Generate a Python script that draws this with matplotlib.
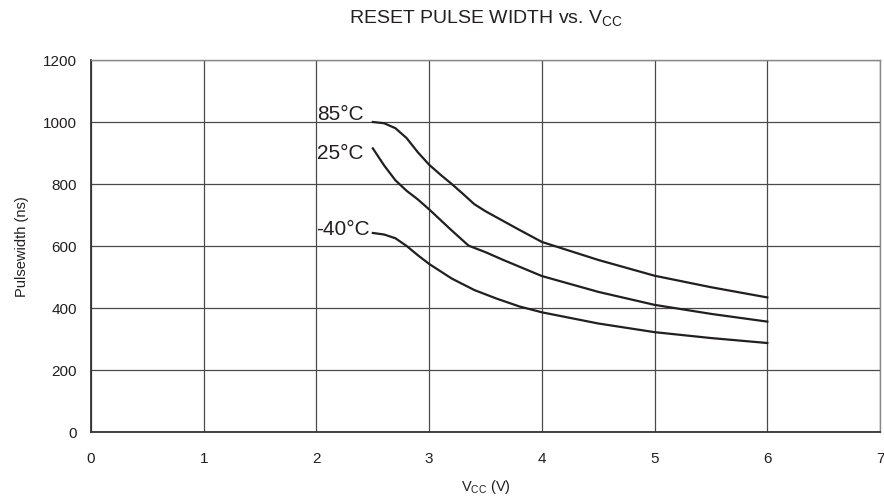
import matplotlib
matplotlib.use("Agg")
import matplotlib.pyplot as plt

plt.rcParams['font.family'] = ['Liberation Sans', 'DejaVu Sans']

x_85 = [2.5, 2.6, 2.7, 2.8, 2.9, 3.0, 3.1, 3.2, 3.3, 3.4, 3.5, 3.6, 3.8, 4.0, 4.5, 5.0, 5.5, 6.0]
y_85 = [1000, 996, 980, 948, 902, 862, 830, 800, 768, 735, 712, 692, 652, 613, 555, 504, 467, 434]

x_25 = [2.5, 2.6, 2.7, 2.8, 2.9, 3.0, 3.2, 3.35, 3.5, 3.65, 4.0, 4.5, 5.0, 5.5, 6.0]
y_25 = [915, 860, 812, 778, 750, 718, 650, 601, 580, 556, 503, 452, 410, 381, 356]

x_m40 = [2.5, 2.6, 2.7, 2.8, 2.9, 3.0, 3.2, 3.4, 3.6, 3.8, 4.0, 4.5, 5.0, 5.5, 6.0]
y_m40 = [642, 637, 625, 600, 570, 542, 495, 458, 430, 405, 386, 350, 322, 303, 287]

series = [("85°C", x_85, y_85), ("25°C", x_25, y_25), ("-40°C", x_m40, y_m40)]
label_pos = {"85°C": (2.42, 1029), "25°C": (2.42, 900), "-40°C": (2.475, 658)}

xticks = [0, 1, 2, 3, 4, 5, 6, 7]
yticks = [0, 200, 400, 600, 800, 1000, 1200]

fig = plt.figure(figsize=(8.84, 5.02), dpi=100)
ax = fig.add_axes([0.103, 0.1375, 0.8925, 0.741])

for label, xs, ys in series:
    ax.plot(xs, ys, color='#231f20', lw=1.6)
    lx, ly = label_pos[label]
    ax.text(lx, ly, label, ha='right', va='center', fontsize=15, color='#231f20')

ax.set_xlim(0, 7)
ax.set_ylim(0, 1200)
ax.set_xticks(xticks)
ax.set_yticks(yticks)
ax.grid(True, color='#4a4a4a', lw=0.9)
ax.set_axisbelow(True)
ax.tick_params(length=0, labelsize=11, colors='#231f20')
ax.tick_params(axis='x', pad=14)
ax.tick_params(axis='y', pad=10)
for s in ['top', 'right']:
    ax.spines[s].set_color('#888888')
    ax.spines[s].set_linewidth(1.0)
for s in ['left', 'bottom']:
    ax.spines[s].set_color('#333333')
    ax.spines[s].set_linewidth(1.3)

ax.set_xlabel('V$_{\\mathregular{CC}}$ (V)', fontsize=10.5, labelpad=8, color='#231f20')
ax.set_ylabel('Pulsewidth (ns)', fontsize=10.5, labelpad=10, color='#231f20')
ax.set_title('RESET PULSE WIDTH vs. V$_{\\mathregular{CC}}$', fontsize=14, pad=27, color='#231f20')

fig.savefig('out.png', dpi=100)
